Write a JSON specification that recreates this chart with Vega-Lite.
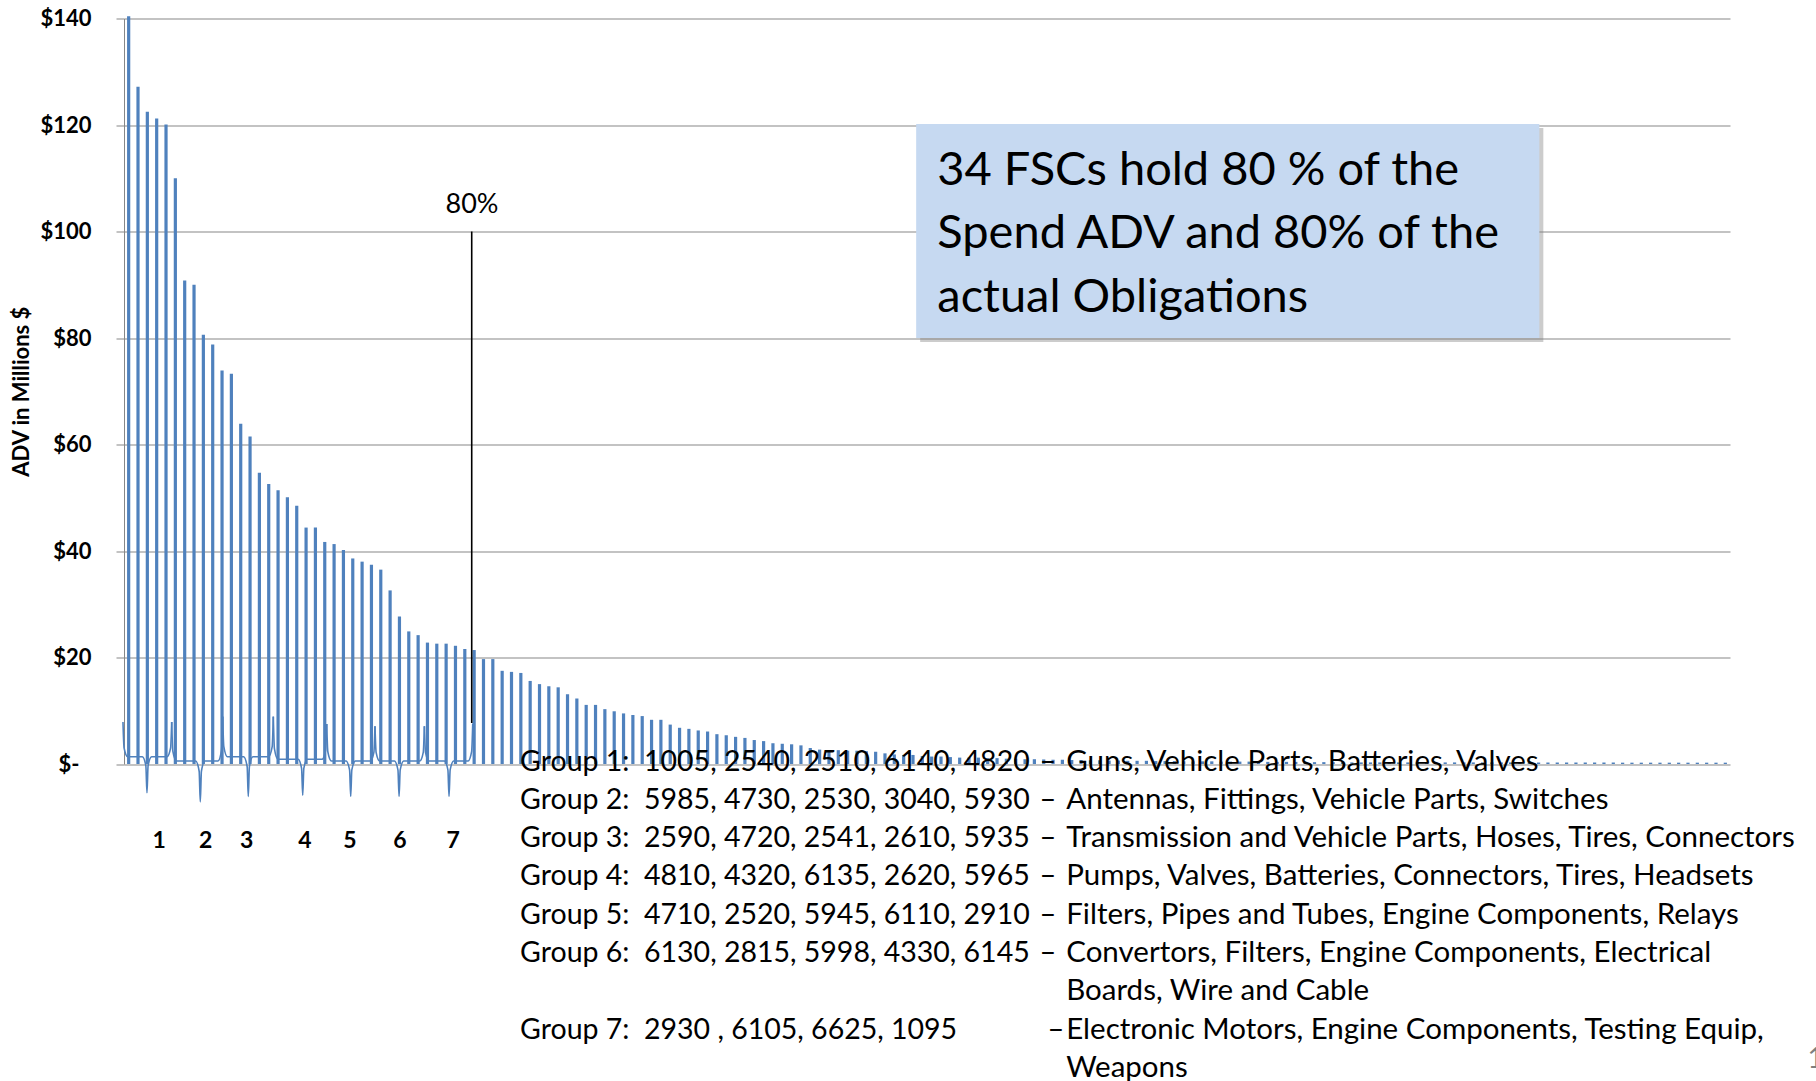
{
  "$schema": "https://vega.github.io/schema/vega-lite/v6.json",
  "autosize": {"type": "none"},
  "width": 1606,
  "height": 745.5,
  "padding": {"left": 124, "top": 18.5, "right": 86, "bottom": 317},
  "background": "white",
  "config": {"view": {"stroke": null}, "font": "Lato"},
  "datasets": {
    "fsc": [
      {"rank":1,"adv":140.4},{"rank":2,"adv":127.2},{"rank":3,"adv":122.5},{"rank":4,"adv":121.2},{"rank":5,"adv":120.1},
      {"rank":6,"adv":110.0},{"rank":7,"adv":90.8},{"rank":8,"adv":90.0},{"rank":9,"adv":80.6},{"rank":10,"adv":78.8},
      {"rank":11,"adv":73.9},{"rank":12,"adv":73.3},{"rank":13,"adv":63.9},{"rank":14,"adv":61.5},{"rank":15,"adv":54.7},
      {"rank":16,"adv":52.6},{"rank":17,"adv":51.4},{"rank":18,"adv":50.1},{"rank":19,"adv":48.5},{"rank":20,"adv":44.4},
      {"rank":21,"adv":44.4},{"rank":22,"adv":41.7},{"rank":23,"adv":41.3},{"rank":24,"adv":40.2},{"rank":25,"adv":38.6},
      {"rank":26,"adv":38.0},{"rank":27,"adv":37.4},{"rank":28,"adv":36.5},{"rank":29,"adv":32.6},{"rank":30,"adv":27.7},
      {"rank":31,"adv":24.9},{"rank":32,"adv":24.2},{"rank":33,"adv":22.8},{"rank":34,"adv":22.6},{"rank":35,"adv":22.6},
      {"rank":36,"adv":22.2},{"rank":37,"adv":21.6},{"rank":38,"adv":21.4},{"rank":39,"adv":19.7},{"rank":40,"adv":19.7},
      {"rank":41,"adv":17.5},{"rank":42,"adv":17.3},{"rank":43,"adv":17.1},{"rank":44,"adv":15.6},{"rank":45,"adv":15.0},
      {"rank":46,"adv":14.6},{"rank":47,"adv":14.4},{"rank":48,"adv":13.1},{"rank":49,"adv":12.3},{"rank":50,"adv":11.1},
      {"rank":51,"adv":11.1},{"rank":52,"adv":10.3},{"rank":53,"adv":9.9},{"rank":54,"adv":9.5},{"rank":55,"adv":9.2},
      {"rank":56,"adv":9.0},{"rank":57,"adv":8.3},{"rank":58,"adv":8.3},{"rank":59,"adv":7.4},{"rank":60,"adv":6.8},
      {"rank":61,"adv":6.6},{"rank":62,"adv":6.3},{"rank":63,"adv":6.1},{"rank":64,"adv":5.6},{"rank":65,"adv":5.4},
      {"rank":66,"adv":5.1},{"rank":67,"adv":4.9},{"rank":68,"adv":4.5},{"rank":69,"adv":4.3},{"rank":70,"adv":3.9},
      {"rank":71,"adv":3.8},{"rank":72,"adv":3.7},{"rank":73,"adv":3.5},{"rank":74,"adv":3.0},{"rank":75,"adv":2.7},
      {"rank":76,"adv":2.6},{"rank":77,"adv":2.6},{"rank":78,"adv":2.5},{"rank":79,"adv":2.5},{"rank":80,"adv":2.4},
      {"rank":81,"adv":2.3},{"rank":82,"adv":2.0},{"rank":83,"adv":1.8},{"rank":84,"adv":1.7},{"rank":85,"adv":1.7},
      {"rank":86,"adv":1.5},{"rank":87,"adv":1.4},{"rank":88,"adv":1.4},{"rank":89,"adv":1.3},{"rank":90,"adv":1.2},
      {"rank":91,"adv":1.2},{"rank":92,"adv":1.2},{"rank":93,"adv":1.1},{"rank":94,"adv":1.1},{"rank":95,"adv":1.0},
      {"rank":96,"adv":1.0},{"rank":97,"adv":0.9},{"rank":98,"adv":0.9},{"rank":99,"adv":0.85},{"rank":100,"adv":0.8},
      {"rank":101,"adv":0.8},{"rank":102,"adv":0.75},{"rank":103,"adv":0.75},{"rank":104,"adv":0.7},{"rank":105,"adv":0.7},
      {"rank":106,"adv":0.65},{"rank":107,"adv":0.65},{"rank":108,"adv":0.6},{"rank":109,"adv":0.6},{"rank":110,"adv":0.6},
      {"rank":111,"adv":0.55},{"rank":112,"adv":0.55},{"rank":113,"adv":0.55},{"rank":114,"adv":0.5},{"rank":115,"adv":0.5},
      {"rank":116,"adv":0.5},{"rank":117,"adv":0.5},{"rank":118,"adv":0.45},{"rank":119,"adv":0.45},{"rank":120,"adv":0.45},
      {"rank":121,"adv":0.45},{"rank":122,"adv":0.4},{"rank":123,"adv":0.4},{"rank":124,"adv":0.4},{"rank":125,"adv":0.4},
      {"rank":126,"adv":0.4},{"rank":127,"adv":0.35},{"rank":128,"adv":0.35},{"rank":129,"adv":0.35},{"rank":130,"adv":0.35},
      {"rank":131,"adv":0.35},{"rank":132,"adv":0.3},{"rank":133,"adv":0.3},{"rank":134,"adv":0.3},{"rank":135,"adv":0.3},
      {"rank":136,"adv":0.3},{"rank":137,"adv":0.3},{"rank":138,"adv":0.3},{"rank":139,"adv":0.3},{"rank":140,"adv":0.3},
      {"rank":141,"adv":0.3},{"rank":142,"adv":0.3},{"rank":143,"adv":0.3},{"rank":144,"adv":0.3},{"rank":145,"adv":0.3},
      {"rank":146,"adv":0.3},{"rank":147,"adv":0.3},{"rank":148,"adv":0.3},{"rank":149,"adv":0.3},{"rank":150,"adv":0.3},
      {"rank":151,"adv":0.28},{"rank":152,"adv":0.28},{"rank":153,"adv":0.28},{"rank":154,"adv":0.28},{"rank":155,"adv":0.28},
      {"rank":156,"adv":0.28},{"rank":157,"adv":0.28},{"rank":158,"adv":0.28},{"rank":159,"adv":0.28},{"rank":160,"adv":0.28},
      {"rank":161,"adv":0.25},{"rank":162,"adv":0.25},{"rank":163,"adv":0.25},{"rank":164,"adv":0.25},{"rank":165,"adv":0.25},
      {"rank":166,"adv":0.25},{"rank":167,"adv":0.25},{"rank":168,"adv":0.25},{"rank":169,"adv":0.25},{"rank":170,"adv":0.25},
      {"rank":171,"adv":0.25},{"rank":172,"adv":0.25}
    ],
    "braces": [
      {"group":1,"bx":0.39,"by":7.9},{"group":1,"bx":0.51,"by":3.0},{"group":1,"bx":0.89,"by":1.37},{"group":1,"bx":2.46,"by":1.37},{"group":1,"bx":2.84,"by":-0.32},{"group":1,"bx":2.96,"by":-5.4},{"group":1,"bx":3.08,"by":-0.32},{"group":1,"bx":3.46,"by":1.37},{"group":1,"bx":5.11,"by":1.37},{"group":1,"bx":5.49,"by":3.0},{"group":1,"bx":5.61,"by":7.9},
      {"group":2,"bx":5.61,"by":7.9},{"group":2,"bx":5.73,"by":2.4},{"group":2,"bx":6.11,"by":0.56},{"group":2,"bx":8.17,"by":0.56},{"group":2,"bx":8.55,"by":-1.36},{"group":2,"bx":8.67,"by":-7.1},{"group":2,"bx":8.79,"by":-1.36},{"group":2,"bx":9.17,"by":0.56},{"group":2,"bx":10.57,"by":0.56},{"group":2,"bx":10.95,"by":2.65},{"group":2,"bx":11.07,"by":8.9},
      {"group":3,"bx":11.07,"by":8.9},{"group":3,"bx":11.19,"by":3.25},{"group":3,"bx":11.57,"by":1.37},{"group":3,"bx":13.31,"by":1.37},{"group":3,"bx":13.69,"by":-0.5},{"group":3,"bx":13.81,"by":-6.1},{"group":3,"bx":13.93,"by":-0.5},{"group":3,"bx":14.31,"by":1.37},{"group":3,"bx":15.99,"by":1.37},{"group":3,"bx":16.37,"by":3.25},{"group":3,"bx":16.49,"by":8.9},
      {"group":4,"bx":16.49,"by":8.9},{"group":4,"bx":16.61,"by":2.88},{"group":4,"bx":16.99,"by":0.88},{"group":4,"bx":19.14,"by":0.88},{"group":4,"bx":19.52,"by":-0.82},{"group":4,"bx":19.64,"by":-5.9},{"group":4,"bx":19.76,"by":-0.82},{"group":4,"bx":20.14,"by":0.88},{"group":4,"bx":21.71,"by":0.88},{"group":4,"bx":22.09,"by":2.54},{"group":4,"bx":22.21,"by":7.5},
      {"group":5,"bx":22.21,"by":7.5},{"group":5,"bx":22.33,"by":2.3},{"group":5,"bx":22.71,"by":0.56},{"group":5,"bx":24.28,"by":0.56},{"group":5,"bx":24.66,"by":-1.11},{"group":5,"bx":24.78,"by":-6.1},{"group":5,"bx":24.9,"by":-1.11},{"group":5,"bx":25.28,"by":0.56},{"group":5,"bx":26.88,"by":0.56},{"group":5,"bx":27.26,"by":2.2},{"group":5,"bx":27.38,"by":7.1},
      {"group":6,"bx":27.38,"by":7.1},{"group":6,"bx":27.5,"by":2.2},{"group":6,"bx":27.88,"by":0.56},{"group":6,"bx":29.46,"by":0.56},{"group":6,"bx":29.84,"by":-1.11},{"group":6,"bx":29.96,"by":-6.1},{"group":6,"bx":30.08,"by":-1.11},{"group":6,"bx":30.46,"by":0.56},{"group":6,"bx":32.17,"by":0.56},{"group":6,"bx":32.55,"by":2.2},{"group":6,"bx":32.67,"by":7.1},
      {"group":7,"bx":32.67,"by":7.1},{"group":7,"bx":32.79,"by":2.2},{"group":7,"bx":33.17,"by":0.56},{"group":7,"bx":34.81,"by":0.56},{"group":7,"bx":35.19,"by":-1.11},{"group":7,"bx":35.31,"by":-6.1},{"group":7,"bx":35.43,"by":-1.11},{"group":7,"bx":35.81,"by":0.56},{"group":7,"bx":37.35,"by":0.56},{"group":7,"bx":37.73,"by":2.32},{"group":7,"bx":37.85,"by":7.6}
    ],
    "groupLabels": [
      {"label":"1","lx":4.27},{"label":"2","lx":9.24},{"label":"3","lx":13.63},{"label":"4","lx":19.87},
      {"label":"5","lx":24.69},{"label":"6","lx":30.05},{"label":"7","lx":35.76}
    ]
  },
  "layer": [
    {
      "data": {"name": "fsc"},
      "mark": {"type": "rule", "color": "#4F81BD", "strokeWidth": 3.2},
      "encoding": {
        "x": {"field": "rank", "type": "quantitative", "scale": {"domain": [0.5, 172.5], "nice": false, "zero": false}, "axis": null},
        "y": {
          "field": "adv", "type": "quantitative",
          "scale": {"domain": [0, 140], "nice": false, "zero": false},
          "axis": {
            "values": [0, 20, 40, 60, 80, 100, 120, 140],
            "labelExpr": "datum.value == 0 ? '$-' : '$' + datum.value",
            "labelFont": "Lato", "labelFontWeight": "bold", "labelFontSize": 22, "labelColor": "#000000",
            "labelPadding": {"condition": {"test": "datum.value == 0", "value": 37}, "value": 25},
            "tickSize": 8, "tickColor": "#878787", "tickWidth": 1,
            "domain": true, "domainColor": "#878787", "domainWidth": 1,
            "grid": true, "gridColor": "#878787", "gridWidth": 1,
            "title": "ADV in Millions $",
            "titleFont": "Lato", "titleFontSize": 22, "titleFontWeight": "bold", "titleColor": "#000000",
            "titleAngle": -90, "titleX": -103, "titleY": 372.75, "titleAlign": "center", "titleBaseline": "middle"
          }
        },
        "y2": {"datum": 0}
      }
    },
    {
      "data": {"name": "braces"},
      "mark": {"type": "line", "color": "#4F81BD", "strokeWidth": 1.6, "interpolate": "monotone"},
      "encoding": {
        "x": {"field": "bx", "type": "quantitative", "scale": {"domain": [0.5, 172.5], "nice": false, "zero": false}, "axis": null},
        "y": {"field": "by", "type": "quantitative", "scale": {"domain": [0, 140], "nice": false, "zero": false}},
        "detail": {"field": "group", "type": "nominal"}
      }
    },
    {
      "data": {"name": "groupLabels"},
      "mark": {"type": "text", "fontSize": 23, "fontWeight": "bold", "color": "#000000", "align": "center", "baseline": "middle"},
      "encoding": {
        "x": {"field": "lx", "type": "quantitative", "scale": {"domain": [0.5, 172.5], "nice": false, "zero": false}, "axis": null},
        "y": {"datum": -14.5, "type": "quantitative", "scale": {"domain": [0, 140], "nice": false, "zero": false}},
        "text": {"field": "label"}
      }
    },
    {
      "data": {"values": [{}]},
      "mark": {"type": "rule", "color": "#000000", "strokeWidth": 1.6},
      "encoding": {
        "x": {"datum": 37.74, "type": "quantitative", "scale": {"domain": [0.5, 172.5], "nice": false, "zero": false}, "axis": null},
        "y": {"datum": 100, "type": "quantitative", "scale": {"domain": [0, 140], "nice": false, "zero": false}},
        "y2": {"datum": 7.7}
      }
    },
    {
      "data": {"values": [{}]},
      "mark": {"type": "text", "text": "80%", "fontSize": 27, "color": "#000000", "align": "center", "baseline": "middle"},
      "encoding": {
        "x": {"datum": 37.77, "type": "quantitative", "scale": {"domain": [0.5, 172.5], "nice": false, "zero": false}, "axis": null},
        "y": {"datum": 105.05, "type": "quantitative", "scale": {"domain": [0, 140], "nice": false, "zero": false}}
      }
    },
    {
      "data": {"values": [{}]},
      "mark": {"type": "rect", "fill": "#7F7F7F", "opacity": 0.4, "xOffset": 4, "x2Offset": 4, "yOffset": 4, "y2Offset": 4},
      "encoding": {
        "x": {"datum": 85.34, "type": "quantitative", "scale": {"domain": [0.5, 172.5], "nice": false, "zero": false}, "axis": null},
        "x2": {"datum": 152.08},
        "y": {"datum": 120.19, "type": "quantitative", "scale": {"domain": [0, 140], "nice": false, "zero": false}},
        "y2": {"datum": 80.0}
      }
    },
    {
      "data": {"values": [{}]},
      "mark": {"type": "rect", "fill": "#C6D9F1"},
      "encoding": {
        "x": {"datum": 85.34, "type": "quantitative", "scale": {"domain": [0.5, 172.5], "nice": false, "zero": false}, "axis": null},
        "x2": {"datum": 152.08},
        "y": {"datum": 120.19, "type": "quantitative", "scale": {"domain": [0, 140], "nice": false, "zero": false}},
        "y2": {"datum": 80.0}
      }
    },
    {
      "data": {"values": [{}]},
      "mark": {"type": "text", "text": ["34 FSCs hold 80 % of the", "Spend ADV and 80% of the", "actual Obligations"], "fontSize": 47, "lineHeight": 63.7, "color": "#000000", "align": "left", "baseline": "middle"},
      "encoding": {
        "x": {"datum": 87.6, "type": "quantitative", "scale": {"domain": [0.5, 172.5], "nice": false, "zero": false}, "axis": null},
        "y": {"datum": 111.4, "type": "quantitative", "scale": {"domain": [0, 140], "nice": false, "zero": false}}
      }
    },
    {
      "data": {"values": [{}]},
      "mark": {"type": "text", "text": ["Group 1:\u00a0 1005, 2540, 2510, 6140, 4820", "Group 2:\u00a0 5985, 4730, 2530, 3040, 5930", "Group 3:\u00a0 2590, 4720, 2541, 2610, 5935", "Group 4:\u00a0 4810, 4320, 6135, 2620, 5965", "Group 5:\u00a0 4710, 2520, 5945, 6110, 2910", "Group 6:\u00a0 6130, 2815, 5998, 4330, 6145"], "fontSize": 28.5, "lineHeight": 38.3, "color": "#000000", "align": "left", "baseline": "middle"},
      "encoding": {
        "x": {"datum": 42.92, "type": "quantitative", "scale": {"domain": [0.5, 172.5], "nice": false, "zero": false}, "axis": null},
        "y": {"datum": 0.45, "type": "quantitative", "scale": {"domain": [0, 140], "nice": false, "zero": false}}
      }
    },
    {
      "data": {"values": [{}]},
      "mark": {"type": "text", "text": "Group 7:\u00a0 2930 , 6105, 6625, 1095", "fontSize": 28.5, "color": "#000000", "align": "left", "baseline": "middle"},
      "encoding": {
        "x": {"datum": 42.92, "type": "quantitative", "scale": {"domain": [0.5, 172.5], "nice": false, "zero": false}, "axis": null},
        "y": {"datum": -49.9, "type": "quantitative", "scale": {"domain": [0, 140], "nice": false, "zero": false}}
      }
    },
    {
      "data": {"values": [{}]},
      "mark": {"type": "text", "text": ["–", "–", "–", "–", "–", "–"], "fontSize": 29, "lineHeight": 38.3, "color": "#000000", "align": "right", "baseline": "middle"},
      "encoding": {
        "x": {"datum": 100.35, "type": "quantitative", "scale": {"domain": [0.5, 172.5], "nice": false, "zero": false}, "axis": null},
        "y": {"datum": 0.45, "type": "quantitative", "scale": {"domain": [0, 140], "nice": false, "zero": false}}
      }
    },
    {
      "data": {"values": [{}]},
      "mark": {"type": "text", "text": "–", "fontSize": 29, "color": "#000000", "align": "right", "baseline": "middle"},
      "encoding": {
        "x": {"datum": 101.2, "type": "quantitative", "scale": {"domain": [0.5, 172.5], "nice": false, "zero": false}, "axis": null},
        "y": {"datum": -49.9, "type": "quantitative", "scale": {"domain": [0, 140], "nice": false, "zero": false}}
      }
    },
    {
      "data": {"values": [{}]},
      "mark": {"type": "text", "text": ["Guns, Vehicle Parts, Batteries, Valves", "Antennas, Fittings, Vehicle Parts, Switches", "Transmission and Vehicle Parts, Hoses, Tires, Connectors", "Pumps, Valves, Batteries, Connectors, Tires, Headsets", "Filters, Pipes and Tubes, Engine Components, Relays", "Convertors, Filters, Engine Components, Electrical", "Boards, Wire and Cable", "Electronic Motors, Engine Components, Testing Equip,", "Weapons"], "fontSize": 29.5, "lineHeight": 38.3, "color": "#000000", "align": "left", "baseline": "middle"},
      "encoding": {
        "x": {"datum": 101.41, "type": "quantitative", "scale": {"domain": [0.5, 172.5], "nice": false, "zero": false}, "axis": null},
        "y": {"datum": 0.45, "type": "quantitative", "scale": {"domain": [0, 140], "nice": false, "zero": false}}
      }
    },
    {
      "data": {"values": [{}]},
      "mark": {"type": "text", "text": "1", "fontSize": 28, "color": "#7F7F7F", "align": "left", "baseline": "middle"},
      "encoding": {
        "x": {"datum": 180.8, "type": "quantitative", "scale": {"domain": [0.5, 172.5], "nice": false, "zero": false}, "axis": null},
        "y": {"datum": -55.6, "type": "quantitative", "scale": {"domain": [0, 140], "nice": false, "zero": false}}
      }
    }
  ]
}
